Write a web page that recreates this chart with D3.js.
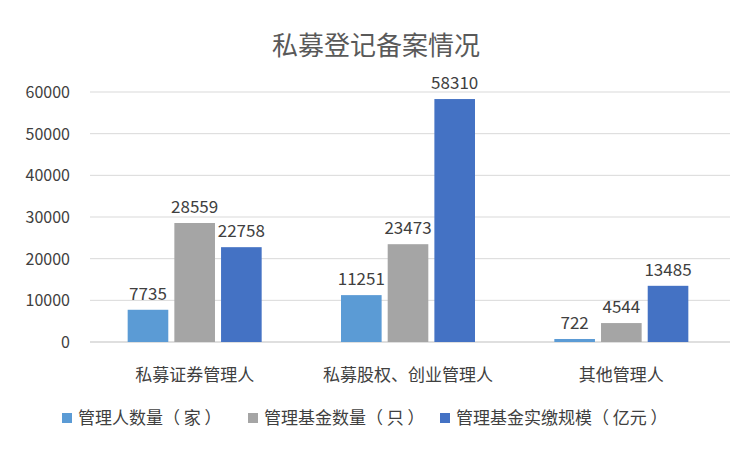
<!DOCTYPE html>
<html><head><meta charset="utf-8">
<script src="https://cdn.jsdelivr.net/npm/d3@7"></script>
<style>body{margin:0;background:#fff}svg{font-family:"Noto Sans CJK SC","Microsoft YaHei",sans-serif}</style>
</head><body><svg id="chart" width="752" height="452"></svg>
<script>
const categories = ["私募证券管理人", "私募股权、创业管理人", "其他管理人"];
const seriesNames = ["管理人数量（ 家 ）", "管理基金数量（ 只 ）", "管理基金实缴规模（ 亿元 ）"];
const managers = [7735, 11251, 722];
const funds = [28559, 23473, 4544];
const scale = [22758, 58310, 13485];
const colors = ["#5B9BD5", "#A5A5A5", "#4472C4"];
const yTicks = [0, 10000, 20000, 30000, 40000, 50000, 60000];

const series = [managers, funds, scale];
const svg = d3.select("#chart");
const x = d3.scaleBand().domain(categories).range([88, 728]);
const y = d3.scaleLinear().domain([0, 60000]).range([342, 92]);
const inner = d3.scaleBand().domain(d3.range(3)).range([0, 134]).paddingInner(0.13);

svg.append("text").attr("x", 376).attr("y", 55).attr("text-anchor", "middle")
  .attr("font-size", 26).attr("fill", "#595959").text("私募登记备案情况");

svg.selectAll(".grid").data(yTicks).enter().append("line")
  .attr("x1", 90).attr("x2", 730).attr("y1", d => y(d)).attr("y2", d => y(d))
  .attr("stroke", d => d === 0 ? "#bfbfbf" : "#d9d9d9");
svg.selectAll(".yl").data(yTicks).enter().append("text")
  .attr("x", 70).attr("y", d => y(d) + 6).attr("text-anchor", "end")
  .attr("font-size", 16).attr("fill", "#404040").text(d => d);

series.forEach((vals, si) => {
  const g = svg.append("g");
  g.selectAll("rect").data(vals).enter().append("rect")
    .attr("x", (d, i) => x(categories[i]) + x.bandwidth() / 2 - 67 + inner(si))
    .attr("width", inner.bandwidth())
    .attr("y", d => y(d)).attr("height", d => y(0) - y(d))
    .attr("fill", colors[si]);
  g.selectAll("text").data(vals).enter().append("text")
    .attr("x", (d, i) => x(categories[i]) + x.bandwidth() / 2 - 67 + inner(si) + inner.bandwidth() / 2)
    .attr("y", d => y(d) - 10).attr("text-anchor", "middle")
    .attr("font-size", 17).attr("fill", "#404040").text(d => d);
});

svg.selectAll(".xl").data(categories).enter().append("text")
  .attr("x", d => x(d) + x.bandwidth() / 2).attr("y", 381).attr("text-anchor", "middle")
  .attr("font-size", 17).attr("fill", "#404040").text(d => d);

const legendX = [62, 248, 440];
seriesNames.forEach((n, i) => {
  svg.append("rect").attr("x", legendX[i]).attr("y", 413).attr("width", 10).attr("height", 10).attr("fill", colors[i]);
  svg.append("text").attr("x", legendX[i] + 16).attr("y", 424).attr("font-size", 17).attr("fill", "#404040").text(n);
});
</script></body></html>
